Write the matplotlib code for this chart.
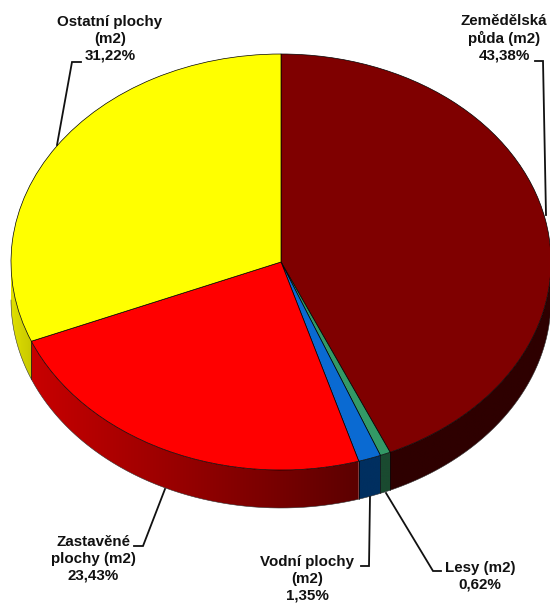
import numpy as np
import matplotlib
matplotlib.use("Agg")
import matplotlib.pyplot as plt
from matplotlib.patches import Polygon

plt.rcParams['font.family'] = ['Liberation Sans', 'DejaVu Sans']

categories = ["Zemědělská půda (m2)", "Lesy (m2)", "Vodní plochy (m2)", "Zastavěné plochy (m2)", "Ostatní plochy (m2)"]
shares = [43.38, 0.62, 1.35, 23.43, 31.22]
top_colors = ["#7f0000", "#339966", "#0a6ad2", "#ff0000", "#ffff00"]
# side shade at the right and left end of each slice wall
side_right = ["#2e0000", "#1a4a30", "#002f60", "#5c0000", "#c8c800"]
side_left = ["#2e0000", "#1a4a30", "#002f60", "#c80000", "#e0e000"]

label_texts = ["Zemědělská\npůda (m2)\n43,38%", "Lesy (m2)\n0,62%", "Vodní plochy\n(m2)\n1,35%",
               "Zastavěné\nplochy (m2)\n23,43%", "Ostatní plochy\n(m2)\n31,22%"]
label_pos = [(504, 38), (480, 576), (307, 579), (93, 559), (110, 39)]
leaders = [
    [(535, 61), (543, 61), (546, 215)],
    [(386, 493), (433, 571), (441, 571)],
    [(370, 497), (369, 566), (361, 566)],
    [(165, 489), (143, 546), (134, 546)],
    [(57, 145), (72, 62), (81, 62)],
]

cx, cy, rx, ry, depth = 281, 262, 270, 208, 38


def px(x, y):
    return (x - cx) / rx, (cy - y) / ry


fig = plt.figure(figsize=(5.5, 6.06), dpi=100)
ax = fig.add_axes([0, 0, 1, 1])

# side wall: a horizontal gradient clipped to each slice's wall
d = depth / ry
edges = np.cumsum([0] + shares) * 3.6
for i in range(len(shares)):
    a0 = max(edges[i], 90)
    a1 = min(edges[i + 1], 270)
    if a1 <= a0:
        continue
    aa = np.radians(np.linspace(a0, a1, 120))
    xs = np.sin(aa)
    ys = np.cos(aa)
    wall = Polygon(np.c_[np.r_[xs, xs[::-1]], np.r_[ys, ys[::-1] - d]], closed=True,
                   facecolor="none", edgecolor="none", transform=ax.transData)
    ax.add_patch(wall)
    left = np.array(matplotlib.colors.to_rgb(side_left[i]))
    right = np.array(matplotlib.colors.to_rgb(side_right[i]))
    grad = np.linspace(left, right, 256)[None, :, :]
    im = ax.imshow(grad, extent=(xs.min(), xs.max(), ys.min() - d, ys.max()), aspect="auto",
                   interpolation="bilinear", zorder=0.5)
    im.set_clip_path(wall)
    if a1 < 270:
        ax.plot([xs[-1], xs[-1]], [ys[-1], ys[-1] - d], color="black", lw=0.5, zorder=0.6)

ang = np.radians(np.linspace(90, 270, 200))
ax.plot(np.sin(ang), np.cos(ang) - d, color="#333333", lw=0.4, zorder=0.6)

ax.pie(shares, colors=top_colors, startangle=90, counterclock=False, radius=1,
       wedgeprops={"edgecolor": "black", "linewidth": 0.5})

ax.set_aspect("auto")
ax.set_xlim(-cx / rx, (550 - cx) / rx)
ax.set_ylim((cy - 606) / ry, cy / ry)
ax.axis("off")

for pts in leaders:
    xy = np.array([px(*p) for p in pts])
    ax.plot(xy[:, 0], xy[:, 1], color="#111111", lw=1.3, solid_joinstyle="miter", zorder=5, clip_on=False)

for txt, pos in zip(label_texts, label_pos):
    x, y = px(*pos)
    ax.text(x, y, txt, ha="center", va="center", fontsize=10.9, fontweight="bold",
            color="#111111", linespacing=1.24, zorder=6)

fig.savefig("out.png", dpi=100)
